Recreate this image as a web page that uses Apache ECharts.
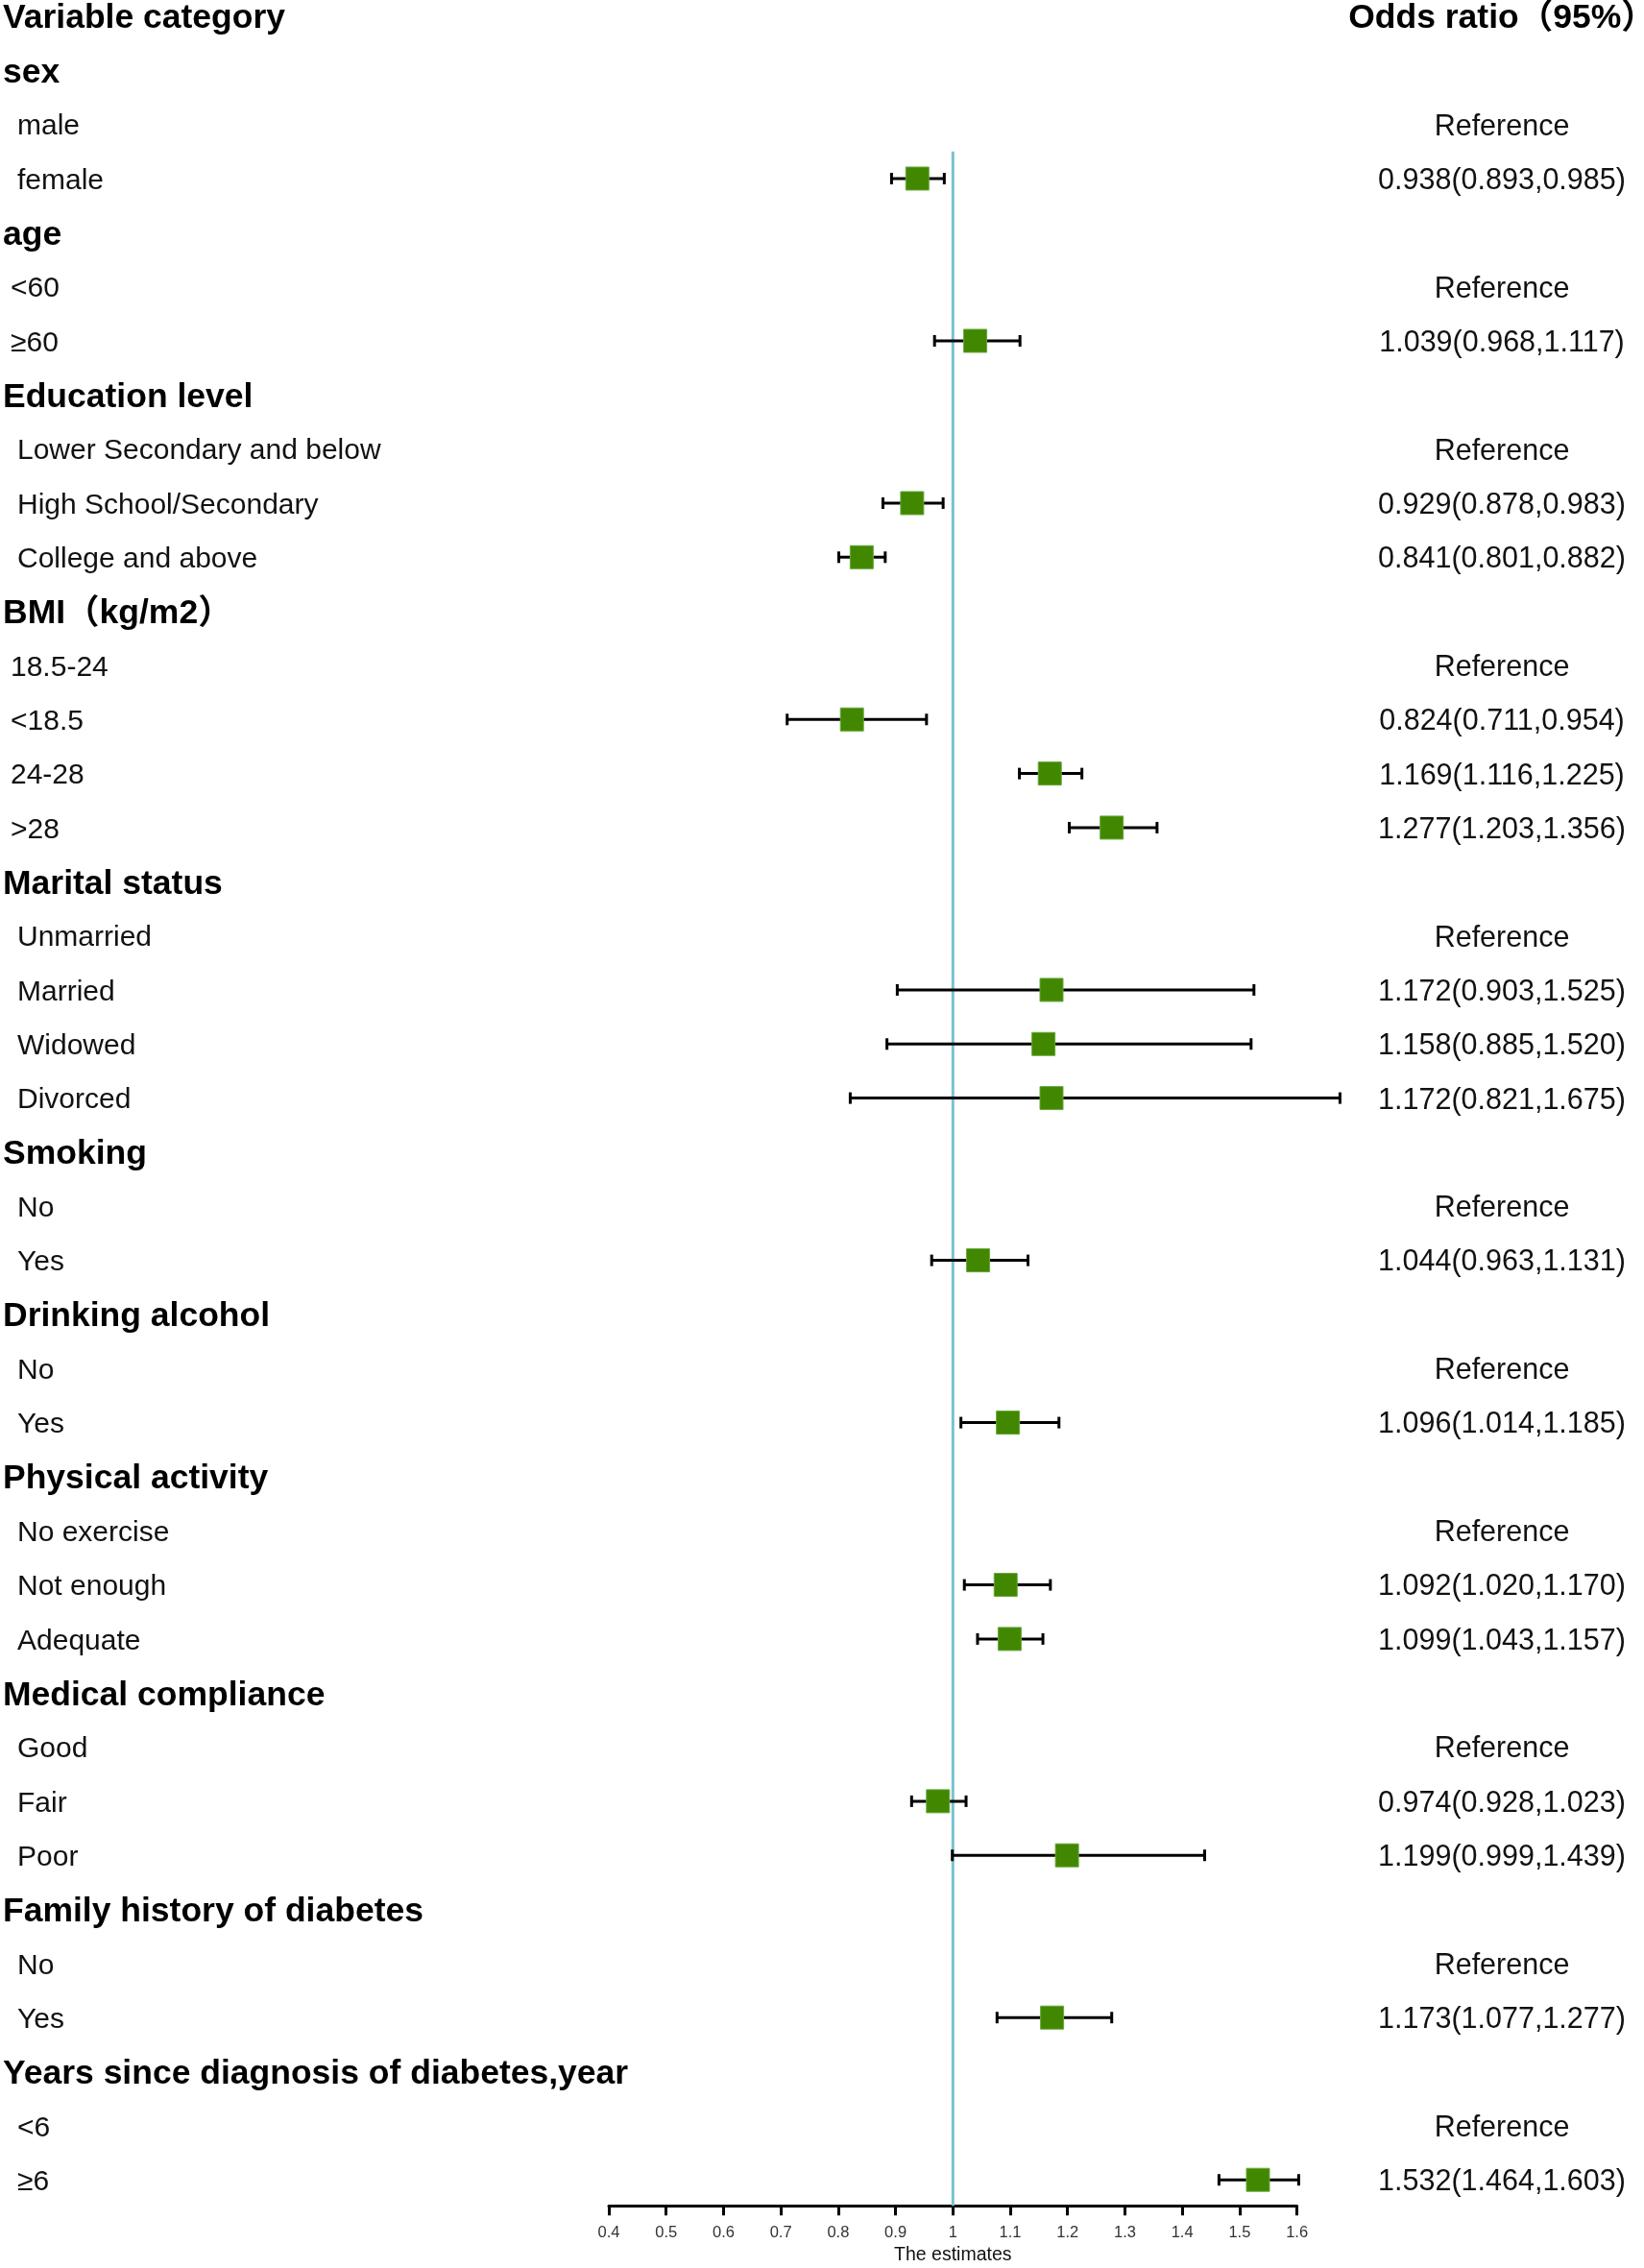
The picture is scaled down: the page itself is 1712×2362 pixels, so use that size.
<!DOCTYPE html>
<html>
<head>
<meta charset="utf-8">
<script src="https://cdn.jsdelivr.net/npm/echarts@6/dist/echarts.min.js"></script>
<style>
html,body{margin:0;padding:0;background:#fff;overflow:hidden;}
#chart{width:1712px;height:2362px;}
</style>
</head>
<body>
<div id="chart"></div>
<script>
// ---------- DATA ----------
const rowLabels = [
  'Variable category',
  'sex', 'male', 'female',
  'age', '<60', '≥60',
  'Education level', 'Lower Secondary and below', 'High School/Secondary', 'College and above',
  'BMI（kg/m2）', '18.5-24', '<18.5', '24-28', '>28',
  'Marital status', 'Unmarried', 'Married', 'Widowed', 'Divorced',
  'Smoking', 'No', 'Yes',
  'Drinking alcohol', 'No', 'Yes',
  'Physical activity', 'No exercise', 'Not enough', 'Adequate',
  'Medical compliance', 'Good', 'Fair', 'Poor',
  'Family history of diabetes', 'No', 'Yes',
  'Years since diagnosis of diabetes,year', '<6', '≥6'
];
const orHeader = 'Odds ratio（95%）';
const referenceText = 'Reference';
const orEst = [
  null,
  null, null, 0.938,
  null, null, 1.039,
  null, null, 0.929, 0.841,
  null, null, 0.824, 1.169, 1.277,
  null, null, 1.172, 1.158, 1.172,
  null, null, 1.044,
  null, null, 1.096,
  null, null, 1.092, 1.099,
  null, null, 0.974, 1.199,
  null, null, 1.173,
  null, null, 1.532
];
const orLow = [
  null,
  null, null, 0.893,
  null, null, 0.968,
  null, null, 0.878, 0.801,
  null, null, 0.711, 1.116, 1.203,
  null, null, 0.903, 0.885, 0.821,
  null, null, 0.963,
  null, null, 1.014,
  null, null, 1.020, 1.043,
  null, null, 0.928, 0.999,
  null, null, 1.077,
  null, null, 1.464
];
const orHigh = [
  null,
  null, null, 0.985,
  null, null, 1.117,
  null, null, 0.983, 0.882,
  null, null, 0.954, 1.225, 1.356,
  null, null, 1.525, 1.520, 1.675,
  null, null, 1.131,
  null, null, 1.185,
  null, null, 1.170, 1.157,
  null, null, 1.023, 1.439,
  null, null, 1.277,
  null, null, 1.603
];
const xTickLabels = ['0.4','0.5','0.6','0.7','0.8','0.9','1','1.1','1.2','1.3','1.4','1.5','1.6'];
const xName = 'The estimates';
const nullValue = 1;

// ---------- LAYOUT / STYLE ----------
const headerRows = new Set([0,1,4,7,11,16,21,24,27,31,35,38]);
const narrowIndentRows = new Set([5,6,12,13,14,15]);
const ROW0 = 17, ROWH = 56.33, YMAX = 40.48;
const GRID_LEFT = 634, GRID_RIGHT_X = 1350.6;
const W = 1712, H = 2362;
const FONT = "'Liberation Sans', Arial, 'Noto Sans CJK SC', sans-serif";
const NARROW = "'Liberation Sans Narrow', 'Arial Narrow', 'Liberation Sans', sans-serif";

function rowKind(i){
  if (headerRows.has(i)) return 'h';
  if (narrowIndentRows.has(i)) return 'b';
  return 'a';
}
function rightText(i){
  if (i === 0) return '{h|' + orHeader + '}';
  if (headerRows.has(i)) return '';
  if (orEst[i] == null) return '{n|' + referenceText + '}';
  return '{n|' + orEst[i].toFixed(3) + '(' + orLow[i].toFixed(3) + ',' + orHigh[i].toFixed(3) + ')}';
}

const pointData = [], barData = [];
let firstRow = null;
for (let i = 0; i < rowLabels.length; i++) {
  if (orEst[i] != null) {
    if (firstRow === null) firstRow = i;
    pointData.push([orEst[i], i]);
    barData.push([orLow[i], orHigh[i], i]);
  }
}

const chart = echarts.init(document.getElementById('chart'), null, {renderer: 'canvas', width: W, height: H});

function rowIndex(v){
  const r = Math.round(v);
  if (Math.abs(v - r) > 1e-6 || r < 0 || r >= rowLabels.length) return -1;
  return r;
}

const yBase = {
  type: 'value', inverse: true, min: 0, max: YMAX, interval: 1,
  axisLine: {show: false}, axisTick: {show: false}, splitLine: {show: false}
};

const option = {
  animation: false,
  backgroundColor: '#fff',
  grid: {
    left: GRID_LEFT, right: W - GRID_RIGHT_X, top: ROW0, bottom: H - (ROW0 + YMAX * ROWH),
    containLabel: false, outerBoundsMode: 'none'
  },
  xAxis: {
    type: 'value', min: 0.4, max: 1.6, interval: 0.1,
    axisLine: {show: true, onZero: false, lineStyle: {color: '#000', width: 3}},
    axisTick: {show: true, inside: false, length: 10, lineStyle: {color: '#000', width: 3}},
    splitLine: {show: false},
    axisLabel: {
      margin: 20, fontSize: 16.5, fontFamily: NARROW, color: '#333',
      formatter: function(v){ const k = Math.round((v - 0.4) * 10); return xTickLabels[k] || ''; }
    },
    name: xName, nameLocation: 'middle', nameGap: 41,
    nameTextStyle: {fontSize: 19.5, fontFamily: FONT, color: '#111'}
  },
  yAxis: [
    Object.assign({}, yBase, {
      position: 'left',
      axisLabel: {
        margin: GRID_LEFT - 3, align: 'left',
        formatter: function(v){ const r = rowIndex(v); if (r < 0) return ''; return '{' + rowKind(r) + '|' + rowLabels[r] + '}'; },
        rich: {
          h: {fontSize: 35.5, fontWeight: 'bold', fontFamily: FONT, color: '#000', padding: [5, 0, 0, 0]},
          a: {fontSize: 30, fontFamily: FONT, color: '#111', padding: [5, 0, 0, 15]},
          b: {fontSize: 30, fontFamily: FONT, color: '#111', padding: [5, 0, 0, 8]}
        }
      }
    }),
    Object.assign({}, yBase, {
      position: 'right',
      axisLabel: {
        margin: 1564 - GRID_RIGHT_X, align: 'center',
        formatter: function(v){ const r = rowIndex(v); if (r < 0) return ''; return rightText(r); },
        rich: {
          h: {fontSize: 35.5, fontWeight: 'bold', fontFamily: FONT, color: '#000', padding: [5, 0, 0, 0]},
          n: {fontSize: 30.5, fontFamily: FONT, color: '#111', padding: [5, 0, 0, 0]}
        }
      }
    })
  ],
  series: [
    {
      type: 'line', yAxisIndex: 0, silent: true, symbol: 'none', z: 1,
      data: [[nullValue, firstRow - 0.5], [nullValue, YMAX]],
      lineStyle: {color: '#76c3cf', width: 3}
    },
    {
      type: 'custom', yAxisIndex: 0, clip: false, z: 2,
      data: barData,
      encode: {x: [0, 1], y: 2},
      renderItem: function(params, api){
        const a = api.coord([api.value(0), api.value(2)]);
        const b = api.coord([api.value(1), api.value(2)]);
        const st = {stroke: '#000', lineWidth: 3};
        const c = 6;
        return {type: 'group', children: [
          {type: 'line', shape: {x1: a[0], y1: a[1], x2: b[0], y2: b[1]}, style: st},
          {type: 'line', shape: {x1: a[0], y1: a[1] - c, x2: a[0], y2: a[1] + c}, style: st},
          {type: 'line', shape: {x1: b[0], y1: b[1] - c, x2: b[0], y2: b[1] + c}, style: st}
        ]};
      }
    },
    {
      type: 'scatter', yAxisIndex: 0, z: 3, clip: false,
      symbol: 'rect', symbolSize: 24,
      data: pointData,
      itemStyle: {color: '#418700', borderColor: '#67a83c', borderWidth: 1, opacity: 1}
    }
  ]
};
chart.setOption(option);
</script>
</body>
</html>
